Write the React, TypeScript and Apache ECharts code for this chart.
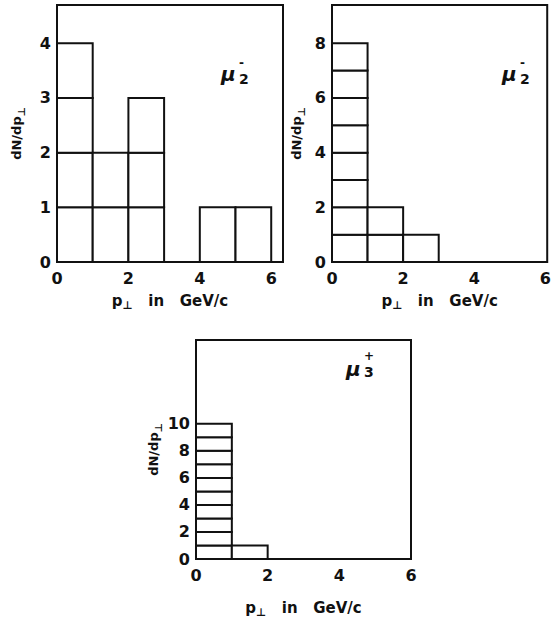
import React, { useEffect, useRef } from "react";
import * as echarts from "echarts";

// Bin edges in p⊥ (GeV/c) shared by all three histograms
const binEdges = [0, 1, 2, 3, 4, 5, 6];

// Entries per 1 GeV/c bin
const countsMuMinusA = [4, 2, 3, 0, 1, 1];
const countsMuMinusB = [8, 2, 1, 0, 0, 0];
const countsMuPlus = [10, 1, 0, 0, 0, 0];

// Axis set-up per panel
const xMaxes = [6.33, 6.05, 6.0];
const yMaxes = [4.7, 9.4, 16.2];
const yIntervals = [1, 2, 2];
const yLabelLimits = [4, 8, 10];
const xTickValues = [0, 2, 4, 6];

const FONT = "DejaVu Sans";
const INK = "#111";

// Each entry becomes one unit box: [x0, x1, y0, y1]
function unitBoxes(counts: number[]) {
  const out: number[][] = [];
  counts.forEach((n, i) => {
    for (let k = 0; k < n; k++) out.push([binEdges[i], binEdges[i + 1], k, k + 1]);
  });
  return out;
}

const grids = [
  { left: 57, top: 5, width: 226, height: 257 },
  { left: 332, top: 5, width: 220, height: 257 },
  { left: 196, top: 340, width: 215, height: 219 },
];

const xNameGaps = [29, 29, 39];
const yNameGaps = [31, 26, 27];

// Particle tag: μ followed by a charge sign (above) and index (below)
function muLabel(x: number, y: number, sup: string, sub: string, supTop: number, subTop: number) {
  return [
    {
      type: "text",
      left: x,
      top: y,
      style: { text: "μ", font: `italic bold 20px '${FONT}'`, fill: INK },
    },
    {
      type: "text",
      left: x + 18,
      top: supTop,
      style: { text: sup, font: `bold 12px '${FONT}'`, fill: INK },
    },
    {
      type: "text",
      left: x + 18,
      top: subTop,
      style: { text: sub, font: `bold 14px '${FONT}'`, fill: INK },
    },
  ];
}

export default function App() {
  const ref = useRef<HTMLDivElement>(null);

  useEffect(() => {
    if (!ref.current) return;
    const chart = echarts.init(ref.current, undefined, { renderer: "svg" });
    const allCounts = [countsMuMinusA, countsMuMinusB, countsMuPlus];

    const richX = {
      a: { fontFamily: FONT, fontWeight: "bold", fontSize: 15, color: INK, lineHeight: 20 },
      b: { fontFamily: FONT, fontWeight: "bold", fontSize: 11, color: INK, lineHeight: 20, verticalAlign: "bottom", padding: [8, 0, 0, 0] },
    };
    const richY = {
      a: { fontFamily: FONT, fontWeight: "bold", fontSize: 13, color: INK, lineHeight: 20 },
      b: { fontFamily: FONT, fontWeight: "bold", fontSize: 10, color: INK, lineHeight: 20, verticalAlign: "bottom", padding: [8, 0, 0, 0] },
    };

    chart.setOption({
      animation: false,
      grid: grids.map((g) => ({
        ...g,
        show: true,
        borderColor: INK,
        borderWidth: 2,
        backgroundColor: "transparent",
        containLabel: false,
      })),
      xAxis: grids.map((_, i) => ({
        type: "value",
        gridIndex: i,
        min: 0,
        max: xMaxes[i],
        interval: 2,
        axisLine: { show: false },
        axisTick: { show: false },
        splitLine: { show: false },
        axisLabel: {
          margin: 8,
          color: INK,
          fontFamily: FONT,
          fontWeight: "bold",
          fontSize: 16,
          formatter: (v: number) => (xTickValues.includes(v) ? String(v) : ""),
        },
        name: "{a|p}{b|⊥}{a|   in   GeV/c}",
        nameLocation: "middle",
        nameGap: xNameGaps[i],
        nameTextStyle: { rich: richX },
      })),
      yAxis: grids.map((_, i) => ({
        type: "value",
        gridIndex: i,
        min: 0,
        max: yMaxes[i],
        interval: yIntervals[i],
        axisLine: { show: false },
        axisTick: { show: false },
        splitLine: { show: false },
        axisLabel: {
          margin: 6,
          color: INK,
          fontFamily: FONT,
          fontWeight: "bold",
          fontSize: 16,
          formatter: (v: number) =>
            Number.isInteger(v) && v <= yLabelLimits[i] ? String(v) : "",
        },
        name: "{a|dN/dp}{b|⊥}",
        nameLocation: "middle",
        nameGap: yNameGaps[i],
        nameTextStyle: { rich: richY },
      })),
      series: allCounts.map((counts, i) => ({
        type: "custom",
        xAxisIndex: i,
        yAxisIndex: i,
        encode: { x: [0, 1], y: [2, 3] },
        data: unitBoxes(counts),
        renderItem: (_params: any, api: any) => {
          const p0 = api.coord([api.value(0), api.value(3)]);
          const p1 = api.coord([api.value(1), api.value(2)]);
          return {
            type: "rect",
            shape: { x: p0[0], y: p0[1], width: p1[0] - p0[0], height: p1[1] - p0[1] },
            style: { fill: "#fff", stroke: INK, lineWidth: 2 },
          };
        },
      })),
      graphic: [
        ...muLabel(221, 64, "-", "2", 57, 72),
        ...muLabel(502, 64, "-", "2", 57, 72),
        ...muLabel(346, 359, "+", "3", 350, 365),
      ],
    });

    return () => chart.dispose();
  }, []);

  return (
    <div
      ref={ref}
      style={{ position: "fixed", left: 0, top: 0, width: 554, height: 625, background: "#fff" }}
    />
  );
}
